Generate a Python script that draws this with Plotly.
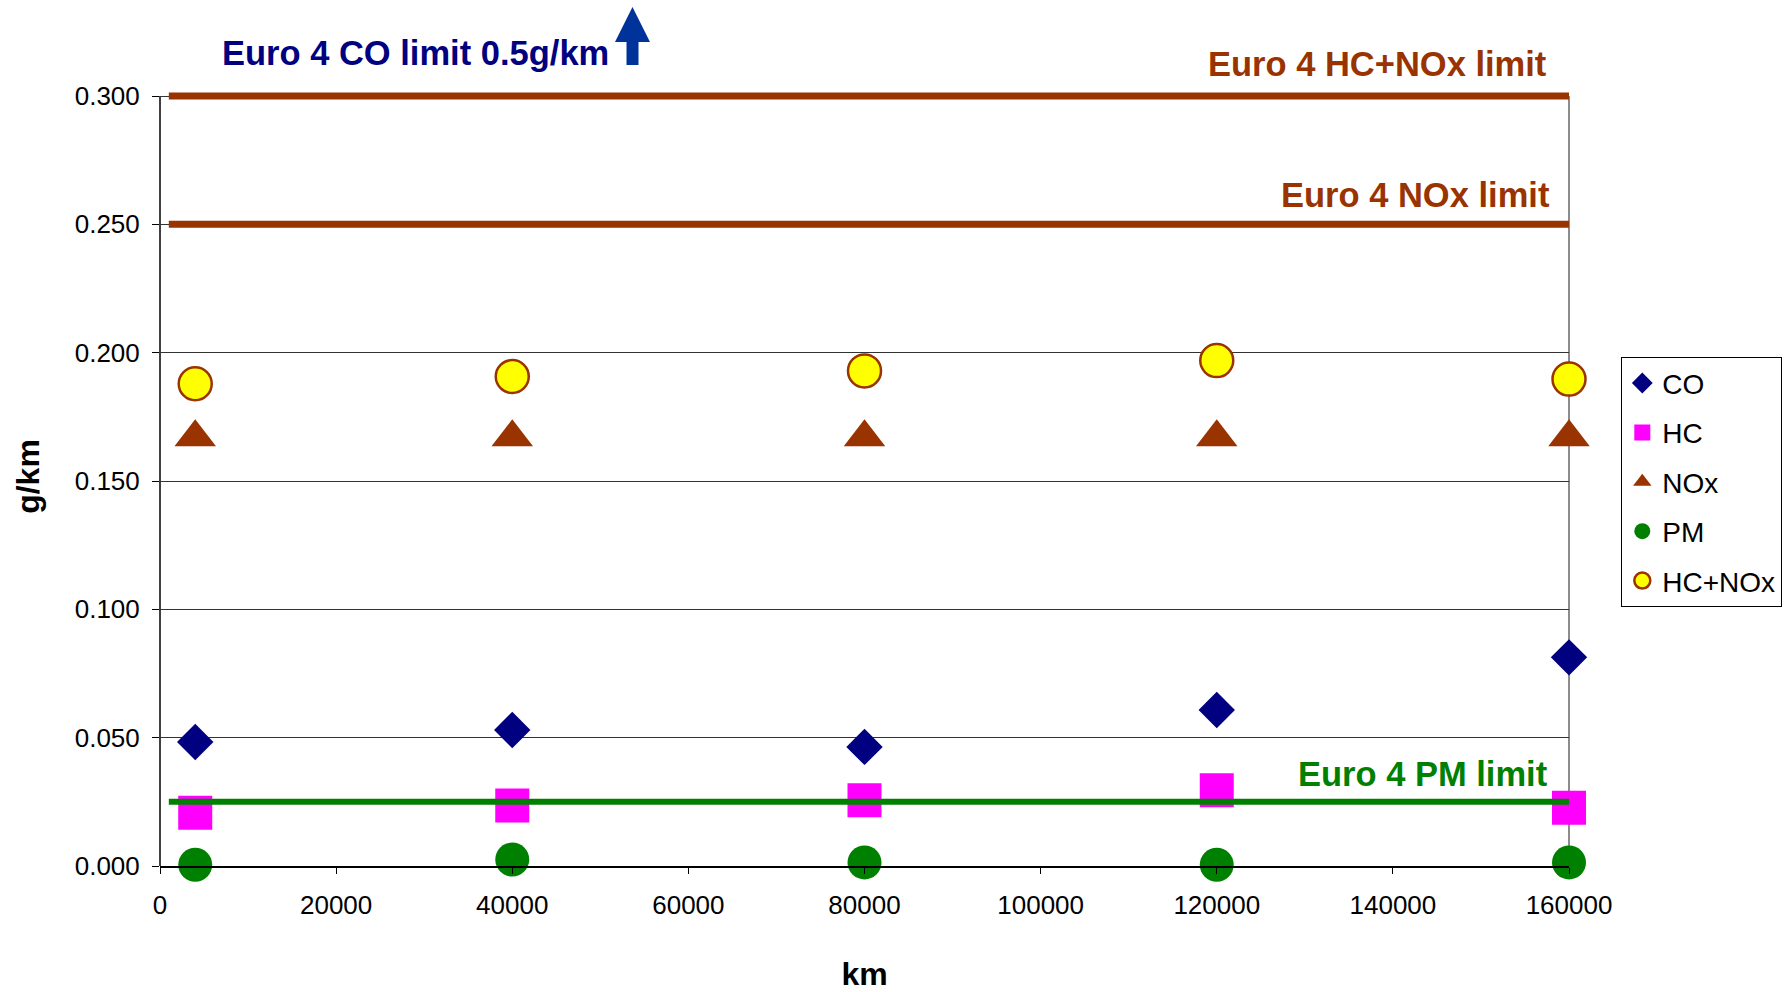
import plotly.graph_objects as go

# Emission test results vs. accumulated mileage
km = [4000, 40000, 80000, 120000, 160000]
co = [0.0483, 0.0530, 0.0464, 0.0608, 0.0813]
hc = [0.0207, 0.0236, 0.0256, 0.0295, 0.0227]
nox = [0.167, 0.167, 0.167, 0.167, 0.167]
pm = [0.0005, 0.0025, 0.0014, 0.0005, 0.0014]
hc_nox = [0.1879, 0.1907, 0.1929, 0.1969, 0.1897]

# Euro 4 limits (g/km)
limit_span = [1000, 160000]
hcnox_limit = 0.300
nox_limit = 0.250
pm_limit = 0.025

x_ticks = [0, 20000, 40000, 60000, 80000, 100000, 120000, 140000, 160000]
y_ticks = [0.000, 0.050, 0.100, 0.150, 0.200, 0.250, 0.300]

FONT = "Arial, Liberation Sans, sans-serif"
BROWN = "#993300"
GREEN = "#008000"
NAVY = "#000080"

W, H = 1784, 992
ML, MR, MB = 160, 215, 126
TOP_0300 = 96          # pixel row of the 0.300 tick
HEADROOM = 9           # extra plot height above 0.300 so the thick top line is not clipped
MT = TOP_0300 - HEADROOM
PW, PH = W - ML - MR, H - MT - MB
Y_MAX = y_ticks[-1]
Y_TOP = Y_MAX * PH / (PH - HEADROOM)


def paper_x(p):
    return (p - ML) / PW


def paper_y(p):
    return (H - MB - p) / PH


fig = go.Figure()

series = [
    ("CO", co, dict(symbol="diamond", size=28, color=NAVY)),
    ("HC", hc, dict(symbol="square", size=34, color="#FF00FF")),
    ("NOx", nox, dict(symbol="triangle-up", size=36, color=BROWN)),
    ("PM", pm, dict(symbol="circle", size=34, color=GREEN)),
    ("HC+NOx", hc_nox, dict(symbol="circle", size=33, color="#FFFF00",
                             line=dict(color=BROWN, width=2.5))),
]
for name, vals, marker in series:
    fig.add_trace(go.Scatter(
        x=km, y=vals, name=name, mode="markers", marker=marker,
        cliponaxis=False, legendgroup=name,
    ))

# Limit lines, drawn over the measured points
for val, color, width in [(hcnox_limit, BROWN, 7), (nox_limit, BROWN, 7), (pm_limit, GREEN, 6)]:
    fig.add_trace(go.Scatter(
        x=limit_span, y=[val, val], mode="lines",
        line=dict(color=color, width=width), showlegend=False,
        hoverinfo="skip", cliponaxis=False,
    ))

ann_font = dict(family=FONT, size=34.5, weight="bold")
fig.add_annotation(x=160000, y=hcnox_limit, xref="x", yref="y", text="Euro 4 HC+NOx limit",
                   showarrow=False, xanchor="right", yanchor="middle", xshift=-20, yshift=32,
                   font=dict(ann_font, color=BROWN))
fig.add_annotation(x=160000, y=nox_limit, xref="x", yref="y", text="Euro 4 NOx limit",
                   showarrow=False, xanchor="right", yanchor="middle", xshift=-17, yshift=29,
                   font=dict(ann_font, color=BROWN))
fig.add_annotation(x=160000, y=pm_limit, xref="x", yref="y", text="Euro 4 PM limit",
                   showarrow=False, xanchor="right", yanchor="middle", xshift=-19, yshift=28,
                   font=dict(ann_font, color=GREEN))
fig.add_annotation(x=paper_x(220), y=paper_y(53.5), xref="paper", yref="paper",
                   text="Euro 4 CO limit 0.5g/km", showarrow=False,
                   xanchor="left", yanchor="middle", font=dict(ann_font, color=NAVY))

# Upward arrow: CO limit lies above the plotted range
ax_pts = [(626.5, 65), (626.5, 42), (615, 42), (632.5, 7), (650, 42), (638.5, 42), (638.5, 65)]
path = "M " + " L ".join(f"{paper_x(a):.5f},{paper_y(b):.5f}" for a, b in ax_pts) + " Z"
fig.add_shape(type="path", path=path, xref="paper", yref="paper",
              fillcolor="#003399", line=dict(width=0))

# Value axis line (left) and plot-area border (right), both ending at 0.300
fig.add_shape(type="line", xref="paper", yref="y", x0=0, x1=0, y0=0, y1=Y_MAX,
              line=dict(color="black", width=1.5), layer="below")
fig.add_shape(type="line", xref="paper", yref="y", x0=1, x1=1, y0=0, y1=Y_MAX,
              line=dict(color="#8c8c8c", width=2), layer="below")

fig.update_layout(
    width=W, height=H,
    margin=dict(l=ML, r=MR, t=MT, b=MB, autoexpand=False),
    paper_bgcolor="white", plot_bgcolor="white",
    font=dict(family=FONT, size=26, color="black"),
    showlegend=True,
    legend=dict(
        x=paper_x(1621), y=paper_y(357), xanchor="left", yanchor="top",
        bordercolor="black", borderwidth=1.3, bgcolor="white",
        font=dict(family=FONT, size=28, color="black"),
        tracegroupgap=10, itemclick=False,
    ),
)

fig.update_xaxes(
    range=[0, 160000], tickvals=x_ticks, tickformat="d",
    ticks="outside", ticklen=6, tickcolor="black", ticklabelstandoff=9,
    showline=True, linecolor="black", linewidth=1.5,
    showgrid=False, zeroline=False,
    tickfont=dict(family=FONT, size=26, color="black"),
    title=dict(text="km", font=dict(family=FONT, size=32, weight="bold", color="black"), standoff=46),
)
fig.update_yaxes(
    range=[0, Y_TOP], tickvals=y_ticks, tickformat=".3f",
    ticks="outside", ticklen=7, tickcolor="black", ticklabelstandoff=7,
    showline=False,
    showgrid=True, gridcolor="#333333", gridwidth=1, zeroline=False,
    tickfont=dict(family=FONT, size=26, color="black"),
    title=dict(text="g/km", font=dict(family=FONT, size=32, weight="bold", color="black"), standoff=25),
)

fig.write_html("out.html")
